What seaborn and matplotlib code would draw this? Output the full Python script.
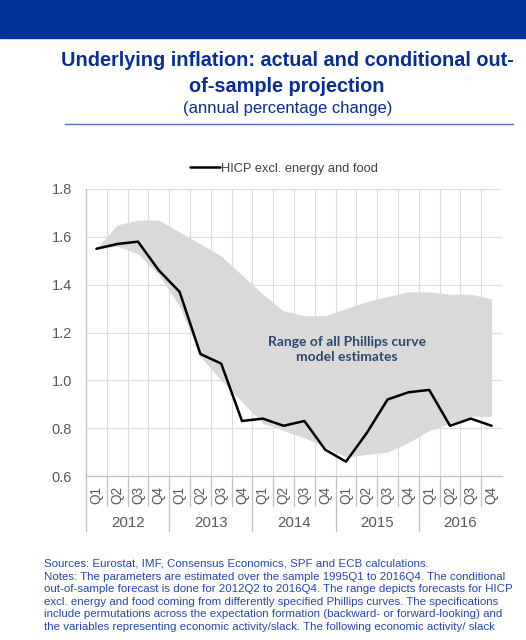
import numpy as np
import pandas as pd
import matplotlib
matplotlib.use("Agg")
import matplotlib.pyplot as plt
from matplotlib.patches import Rectangle
from matplotlib.lines import Line2D
import seaborn as sns

sns.set_theme(style="white")
plt.rcParams['font.family'] = ['Liberation Sans', 'DejaVu Sans']

ECB_BLUE = "#0a2d95"
NOTE_BLUE = "#2747ad"
BAND = "#d9d9d9"
GRID = "#dcdcdc"
TICK = "#595959"

years = ["2012", "2013", "2014", "2015", "2016"]
quarters = ["Q1", "Q2", "Q3", "Q4"]

hicp = [1.55, 1.57, 1.58, 1.46, 1.37, 1.11, 1.07, 0.83, 0.84, 0.81,
        0.83, 0.71, 0.66, 0.78, 0.92, 0.95, 0.96, 0.81, 0.84, 0.81]
band_hi = [1.55, 1.65, 1.67, 1.67, 1.62, 1.57, 1.52, 1.44, 1.36, 1.29,
           1.27, 1.27, 1.30, 1.33, 1.35, 1.37, 1.37, 1.36, 1.36, 1.34]
band_lo = [1.55, 1.56, 1.53, 1.44, 1.31, 1.10, 1.00, 0.91, 0.82, 0.79,
           0.76, 0.72, 0.68, 0.69, 0.70, 0.74, 0.79, 0.82, 0.85, 0.85]

labels = [q for y in years for q in quarters]
df = pd.DataFrame({"idx": np.arange(len(labels)), "hicp": hicp,
                   "lo": band_lo, "hi": band_hi})

fig = plt.figure(figsize=(5.26, 6.4), dpi=100)

# top banner and header
fig.patches.append(Rectangle((0, 1 - 38 / 640), 1, 38 / 640, transform=fig.transFigure,
                             color="#003399", zorder=0))
fig.text(0.546, 1 - 61 / 640, "Underlying inflation: actual and conditional out-",
         ha="center", va="center", fontsize=14.3, fontweight="bold", color=ECB_BLUE)
fig.text(0.546, 1 - 86 / 640, "of-sample projection",
         ha="center", va="center", fontsize=14.3, fontweight="bold", color=ECB_BLUE)
fig.text(0.546, 1 - 109 / 640, "(annual percentage change)",
         ha="center", va="center", fontsize=12, color=ECB_BLUE)
fig.add_artist(Line2D([65 / 526, 513 / 526], [1 - 124 / 640] * 2, transform=fig.transFigure,
                      color="#4f6fc8", linewidth=1.0))

ax = fig.add_axes([86 / 526, 1 - 476 / 640, 416 / 526, 287 / 640])

ax.fill_between(df["idx"], df["lo"], df["hi"], color=BAND, linewidth=0, zorder=2)
sns.lineplot(data=df, x="idx", y="hicp", ax=ax, color="black", linewidth=1.8,
             label="HICP excl. energy and food", zorder=3)

ax.set_xlim(-0.5, len(labels) - 0.5)
ax.set_ylim(0.6, 1.8)
ax.set_yticks(np.arange(0.6, 1.81, 0.2))
ax.set_yticklabels([f"{v:.1f}" for v in np.arange(0.6, 1.81, 0.2)], fontsize=10.5, color=TICK)
ax.tick_params(axis="y", length=0, pad=10)
ax.set_xticks(df["idx"])
ax.set_xticklabels(labels, rotation=90, fontsize=9.8, color=TICK)
ax.tick_params(axis="x", length=0, pad=7)
ax.set_xlabel("")
ax.set_ylabel("")

for v in np.arange(0.8, 1.81, 0.2):
    ax.axhline(v, color=GRID, linewidth=0.8, zorder=1)
for b in np.arange(0.5, len(labels) - 1, 1.0):
    ax.axvline(b, color=GRID, linewidth=0.8, zorder=1)

for s in ["top", "right"]:
    ax.spines[s].set_visible(False)
for s in ["left", "bottom"]:
    ax.spines[s].set_color("#bfbfbf")
    ax.spines[s].set_linewidth(0.9)

# category separators under the axis
trans = ax.get_xaxis_transform()
for i in range(len(labels)):
    b = i - 0.5
    depth = -0.192 if i % 4 == 0 else -0.105
    ax.add_line(Line2D([b, b], [0, depth], transform=trans, color="#bfbfbf",
                       linewidth=0.9, clip_on=False))
for k, yr in enumerate(years):
    ax.text(4 * k + 1.5, -0.163, yr, transform=trans, ha="center", va="center",
            fontsize=10.8, color=TICK)

ax.text(12.05, 1.13, "Range of all Phillips curve\nmodel estimates", ha="center", va="center",
        fontsize=10, fontweight="bold", color="#2d4670", family=["Lato", "DejaVu Sans"],
        linespacing=1.3, zorder=4)

ax.legend(loc="center", bbox_to_anchor=(0.477, 1.07), frameon=False, fontsize=9.3,
          handlelength=2.3, handletextpad=0.1, labelcolor="#404040")

notes = [
    "Sources: Eurostat, IMF, Consensus Economics, SPF and ECB calculations.",
    "Notes: The parameters are estimated over the sample 1995Q1 to 2016Q4. The conditional",
    "out-of-sample forecast is done for 2012Q2 to 2016Q4. The range depicts forecasts for HICP",
    "excl. energy and food coming from differently specified Phillips curves. The specifications",
    "include permutations across the expectation formation (backward- or forward-looking) and",
    "the variables representing economic activity/slack. The following economic activity/ slack",
]
for n, line in enumerate(notes):
    fig.text(44 / 526, 1 - (564 + 12.6 * n) / 640, line, ha="left", va="center",
             fontsize=8.25, color=NOTE_BLUE)

fig.savefig("out.png", dpi=100)
